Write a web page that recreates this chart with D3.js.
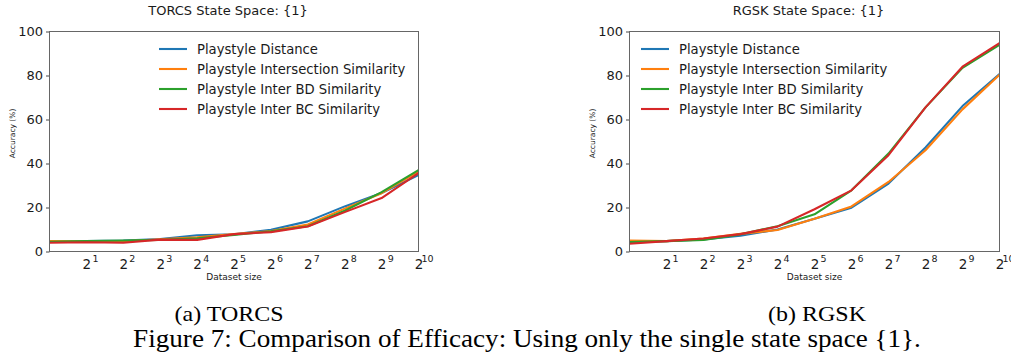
<!DOCTYPE html>
<html>
<head>
<meta charset="utf-8">
<script src="https://cdn.jsdelivr.net/npm/d3@7"></script>
<style>
  html, body { margin: 0; padding: 0; background: #fff; }
  svg { display: block; }
  text { font-family: "DejaVu Sans", sans-serif; fill: #1a1a1a; }
  .serif { font-family: "Liberation Serif", "Times New Roman", serif; fill: #000; }
</style>
</head>
<body>
<svg id="fig" width="1011" height="356"></svg>
<script>
// Dataset sizes (x) and y-axis ticks
const datasetSizes = [1, 2, 4, 8, 16, 32, 64, 128, 256, 512, 1024];
const xTickValues = [2, 4, 8, 16, 32, 64, 128, 256, 512, 1024];
const yTickValues = [0, 20, 40, 60, 80, 100];

const seriesNames = [
  "Playstyle Distance",
  "Playstyle Intersection Similarity",
  "Playstyle Inter BD Similarity",
  "Playstyle Inter BC Similarity"
];
const seriesColors = ["#1f77b4", "#ff7f0e", "#2ca02c", "#d62728"];

// TORCS accuracy (%)
const torcsDistance     = [4.5, 4.7, 5.0, 5.7, 7.4, 7.8, 9.9, 13.7, 20.5, 26.6, 34.7];
const torcsIntersection = [4.7, 4.6, 4.6, 5.6, 6.5, 7.9, 9.3, 12.3, 19.5, 26.5, 36.3];
const torcsInterBD      = [4.4, 4.8, 5.0, 5.3, 6.0, 7.5, 9.2, 11.5, 18.5, 27.0, 37.0];
const torcsInterBC      = [4.0, 4.2, 4.0, 5.4, 5.3, 7.9, 8.8, 11.4, 17.9, 24.3, 35.6];

// RGSK accuracy (%)
const rgskDistance      = [4.3, 4.7, 5.5, 7.2, 10.0, 14.9, 19.9, 30.9, 47.3, 66.1, 80.7];
const rgskIntersection  = [5.0, 4.7, 5.9, 8.0, 9.8, 14.9, 20.5, 31.6, 46.0, 64.6, 80.3];
const rgskInterBD       = [4.3, 4.7, 5.3, 7.8, 11.5, 16.9, 27.8, 44.5, 65.5, 83.5, 93.9];
const rgskInterBC       = [3.5, 4.7, 5.9, 7.9, 11.3, 19.2, 27.8, 43.8, 65.5, 84.0, 94.7];

const panels = [
  {
    title: "TORCS State Space: {1}",
    titleX: 228,
    left: 49.5, right: 418.5,
    legendLineX: 159,
    series: [torcsDistance, torcsIntersection, torcsInterBD, torcsInterBC],
    subcaption: "(a) TORCS", subX: 229, subW: 109
  },
  {
    title: "RGSK State Space: {1}",
    titleX: 808.5,
    left: 629.5, right: 999.5,
    legendLineX: 641,
    series: [rgskDistance, rgskIntersection, rgskInterBD, rgskInterBC],
    subcaption: "(b) RGSK", subX: 817, subW: 98
  }
];

const plotTop = 31.5, plotBottom = 251.5;
const svg = d3.select("#fig");

// Fit a serif caption to a target width, squeezing horizontally so the
// glyphs keep a taller, narrower look.
function fitCaption(sel, cx, baseline, fontPx, targetW) {
  sel.attr("x", 0).attr("y", 0)
    .attr("text-anchor", "middle")
    .style("font-size", fontPx + "px");
  const w = sel.node().getComputedTextLength();
  const sx = targetW / w;
  sel.attr("transform", `translate(${cx},${baseline}) scale(${sx.toFixed(4)},1)`);
}

panels.forEach(p => {
  const x = d3.scaleLog().base(2).domain([1, 1024]).range([p.left, p.right]);
  const y = d3.scaleLinear().domain([0, 100]).range([plotBottom, plotTop]);
  const g = svg.append("g");

  // Title
  g.append("text")
    .attr("x", p.titleX).attr("y", 15)
    .attr("text-anchor", "middle")
    .style("font-size", "13px")
    .text(p.title);

  // Y axis
  const yAxis = g.append("g")
    .attr("transform", `translate(${p.left},0)`)
    .call(d3.axisLeft(y).tickValues(yTickValues).tickSize(3.5).tickSizeOuter(0).tickPadding(3));
  yAxis.select(".domain").remove();
  yAxis.selectAll(".tick line").attr("stroke", "#333").attr("stroke-width", 0.9);
  yAxis.selectAll(".tick text")
    .attr("fill", "#1a1a1a")
    .style("font-family", "DejaVu Sans, sans-serif")
    .style("font-size", "13px");

  // X axis with 2^k labels
  const xAxis = g.append("g")
    .attr("transform", `translate(0,${plotBottom})`)
    .call(d3.axisBottom(x).tickValues(xTickValues).tickSize(0).tickPadding(0).tickFormat(""));
  xAxis.select(".domain").remove();
  xAxis.selectAll(".tick").each(function(d) {
    const t = d3.select(this).select("text")
      .attr("y", 0).attr("dy", null)
      .attr("fill", "#1a1a1a")
      .style("font-family", "DejaVu Sans, sans-serif");
    t.text(null);
    t.append("tspan").attr("y", 17).style("font-size", "13.5px").text("2");
    t.append("tspan").attr("y", 10.5).style("font-size", "9.5px")
      .text(String(Math.round(Math.log2(d))));
  });

  // Axis labels
  g.append("text")
    .attr("x", (p.left + p.right) / 2).attr("y", 280)
    .attr("text-anchor", "middle")
    .style("font-size", "9px")
    .text("Dataset size");
  g.append("text")
    .attr("transform", `translate(${p.left - 35},${(plotTop + plotBottom) / 2 - 8}) rotate(-90)`)
    .attr("text-anchor", "middle")
    .style("font-size", "7.5px")
    .text("Accuracy (%)");

  // Lines
  const line = d3.line()
    .x((d, i) => x(datasetSizes[i]))
    .y(d => y(d));
  const clipId = "clip" + Math.round(p.left);
  g.append("clipPath").attr("id", clipId)
    .append("rect").attr("x", p.left).attr("y", plotTop).attr("width", p.right - p.left).attr("height", plotBottom - plotTop);
  const lines = g.append("g").attr("clip-path", `url(#${clipId})`);
  p.series.forEach((s, i) => {
    lines.append("path")
      .datum(s)
      .attr("d", line)
      .attr("fill", "none")
      .attr("stroke", seriesColors[i])
      .attr("stroke-width", 2.1)
      .attr("stroke-linejoin", "round");
  });

  // Frame
  g.append("rect")
    .attr("x", p.left).attr("y", plotTop)
    .attr("width", p.right - p.left).attr("height", plotBottom - plotTop)
    .attr("fill", "none").attr("stroke", "#666").attr("stroke-width", 1);

  // Legend
  const lg = g.append("g");
  seriesNames.forEach((name, i) => {
    const cy = 49 + i * 20;
    lg.append("line")
      .attr("x1", p.legendLineX).attr("x2", p.legendLineX + 28)
      .attr("y1", cy).attr("y2", cy)
      .attr("stroke", seriesColors[i]).attr("stroke-width", 2.1);
    lg.append("text")
      .attr("x", p.legendLineX + 38).attr("y", cy + 4.7)
      .style("font-size", "13.2px")
      .text(name);
  });

  // Sub-caption
  const sc = svg.append("text").attr("class", "serif").text(p.subcaption);
  fitCaption(sc, p.subX, 320.5, 22, p.subW);
});

// Figure caption
const cap = svg.append("text").attr("class", "serif")
  .text("Figure 7: Comparison of Efficacy: Using only the single state space {1}.");
fitCaption(cap, 527, 347, 25, 788);
</script>
</body>
</html>
